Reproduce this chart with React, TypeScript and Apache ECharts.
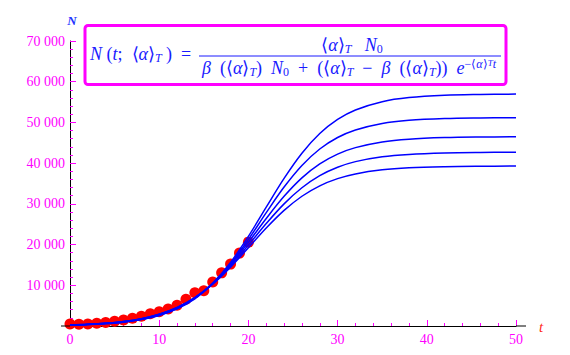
import React, { useEffect, useRef } from 'react';
import * as echarts from 'echarts';

// Observed data points (t, N)
const dataT = [0, 1, 2, 3, 4, 5, 6, 7, 8, 9, 10, 11, 12, 13, 14, 15, 16, 17, 18, 19, 20];
const dataN = [500, 450, 500, 650, 850, 1150, 1450, 1900, 2400, 3000, 3500, 4150, 5100, 6550, 8150, 8650, 10800, 13050, 15200, 17900, 20600];

// Curve samples
const curveT = [0, 2, 4, 6, 8, 10, 12, 14, 16, 18, 20, 22, 24, 26, 28, 30, 32, 35, 38, 42, 46, 50];
const curve1 = [220, 360, 600, 990, 1630, 2660, 4300, 6830, 10540, 15630, 22030, 29200, 36270, 42450, 47280, 50740, 53070, 55100, 56100, 56680, 56880, 56960];
const curve2 = [210, 340, 570, 950, 1580, 2600, 4210, 6690, 10310, 15230, 21260, 27840, 34130, 39440, 43480, 46300, 48160, 49760, 50530, 50960, 51110, 51170];
const curve3 = [240, 390, 650, 1060, 1730, 2790, 4450, 6930, 10450, 15070, 20580, 26400, 31850, 36390, 39820, 42220, 43810, 45200, 45880, 46270, 46420, 46470];
const curve4 = [250, 420, 680, 1110, 1800, 2880, 4540, 6990, 10400, 14790, 19890, 25170, 30000, 33960, 36930, 38990, 40370, 41560, 42150, 42500, 42630, 42670];
const curve5 = [250, 420, 680, 1110, 1800, 2880, 4530, 6940, 10260, 14460, 19230, 24060, 28390, 31870, 34430, 36190, 37350, 38350, 38850, 39130, 39240, 39280];
const curves = [curve1, curve2, curve3, curve4, curve5];

// Axis settings
const xMin = 0, xMax = 50, xStep = 10;
const yMin = 0, yMax = 70000, yStep = 10000;

const SERIF = 'Liberation Serif, Times New Roman, serif';
const MAG = '#ff00ff';
const BLUE = '#1a1aff';

function fmtThousands(v: number): string {
  if (v === 0) return '';
  return String(v).replace(/\B(?=(\d{3})+(?!\d))/g, ' ');
}

const FS = 18;
const rich: any = {
  i: { fontFamily: SERIF, fontStyle: 'italic', fontSize: FS, lineHeight: 20, fill: BLUE },
  r: { fontFamily: SERIF, fontSize: FS, lineHeight: 20, fill: BLUE },
  s: { fontFamily: SERIF, fontStyle: 'italic', fontSize: 12, lineHeight: 12, verticalAlign: 'bottom', fill: BLUE },
  s0: { fontFamily: SERIF, fontSize: 12, lineHeight: 12, verticalAlign: 'bottom', fill: BLUE },
  p: { fontFamily: SERIF, fontSize: 12, lineHeight: 12, verticalAlign: 'top', fill: BLUE },
  pi: { fontFamily: SERIF, fontStyle: 'italic', fontSize: 12, lineHeight: 12, verticalAlign: 'top', fill: BLUE },
  ps: { fontFamily: SERIF, fontStyle: 'italic', fontSize: 9, lineHeight: 17, verticalAlign: 'top', fill: BLUE },
};

const leftText = '{i|N}{r| (}{i|t}{r|;  ⟨}{i|α}{r|⟩}{s|T}{r| )  =}';
const numText = '{r|⟨}{i|α}{r|⟩}{s|T}{r|   }{i|N}{s0|0}';
const denText =
  '{i|β}{r|  (⟨}{i|α}{r|⟩}{s|T}{r|)  }{i|N}{s0|0}{r|  +  (⟨}{i|α}{r|⟩}{s|T}{r|  −  }{i|β}{r|  (⟨}{i|α}{r|⟩}{s|T}{r|))  }{i|e}{p|−⟨}{pi|α}{p|⟩}{ps|T}{pi|t}';

export default function App() {
  const ref = useRef<HTMLDivElement>(null);
  useEffect(() => {
    if (!ref.current) return;
    const chart = echarts.init(ref.current, null, { renderer: 'svg' });
    const scatterData = dataT.map((t, k) => [t, dataN[k]]);
    const lineSeries = curves.map((c) => ({
      type: 'line',
      data: curveT.map((t, k) => [t, c[k]]),
      showSymbol: false,
      smooth: 0.35,
      lineStyle: { color: '#0000ff', width: 1.5 },
      z: 3,
    }));
    chart.setOption({
      animation: false,
      backgroundColor: '#ffffff',
      textStyle: { fontFamily: SERIF },
      grid: { left: 70, right: 54, top: 41, bottom: 29 },
      xAxis: {
        type: 'value',
        min: xMin,
        max: xMax,
        interval: xStep,
        axisLine: { show: true, onZero: false, lineStyle: { color: '#000', width: 1 } },
        axisTick: { show: true, inside: true, length: 6, lineStyle: { color: MAG, width: 1 } },
        minorTick: { show: true, splitNumber: 5, length: 3, lineStyle: { color: MAG, width: 1 } },
        splitLine: { show: false },
        axisLabel: { color: MAG, fontFamily: SERIF, fontSize: 14, margin: 6 },
      },
      yAxis: {
        type: 'value',
        min: yMin,
        max: yMax,
        interval: yStep,
        axisLine: { show: true, onZero: false, lineStyle: { color: '#000', width: 1 } },
        axisTick: { show: true, inside: true, length: 6, lineStyle: { color: MAG, width: 1 } },
        minorTick: { show: true, splitNumber: 5, length: 3, lineStyle: { color: MAG, width: 1 } },
        splitLine: { show: false },
        axisLabel: { color: MAG, fontFamily: SERIF, fontSize: 14, margin: 5, formatter: fmtThousands },
      },
      series: [
        {
          type: 'scatter',
          data: scatterData,
          symbol: 'circle',
          symbolSize: 11,
          itemStyle: { color: '#ff0000', opacity: 1 },
          z: 2,
        },
        ...lineSeries,
      ],
      graphic: [
        { type: 'line', shape: { x1: 61, y1: 326, x2: 70, y2: 326 }, style: { stroke: '#000', lineWidth: 1 }, z: 10 },
        { type: 'line', shape: { x1: 516, y1: 326, x2: 526, y2: 326 }, style: { stroke: '#000', lineWidth: 1 }, z: 10 },
        {
          type: 'text', x: 72, y: 20,
          style: { text: 'N', fontFamily: SERIF, fontStyle: 'italic', fontWeight: 'bold', fontSize: 13, fill: '#2233ff', align: 'center', verticalAlign: 'middle' },
        },
        {
          type: 'text', x: 541, y: 327,
          style: { text: 't', fontFamily: SERIF, fontStyle: 'italic', fontSize: 15, fill: '#ff2a1a', align: 'center', verticalAlign: 'middle' },
        },
        {
          type: 'rect', shape: { x: 85, y: 25.5, width: 421, height: 59, r: 3 },
          style: { fill: '#fff', stroke: MAG, lineWidth: 3 }, z: 10,
        },
        {
          type: 'text', x: 90, y: 54, z: 11,
          style: { text: leftText, rich, align: 'left', verticalAlign: 'middle', fontFamily: SERIF, fontSize: FS, fill: BLUE },
        },
        {
          type: 'text', x: 352, y: 45, z: 11,
          style: { text: numText, rich, align: 'center', verticalAlign: 'middle', fontFamily: SERIF, fontSize: FS, fill: BLUE },
        },
        { type: 'line', shape: { x1: 199, y1: 56, x2: 501, y2: 56 }, style: { stroke: BLUE, lineWidth: 1 }, z: 11 },
        {
          type: 'text', x: 349, y: 68, z: 11,
          style: { text: denText, rich, align: 'center', verticalAlign: 'middle', fontFamily: SERIF, fontSize: FS, fill: BLUE },
        },
      ],
    });
    return () => chart.dispose();
  }, []);
  return (
    <div
      ref={ref}
      style={{ position: 'absolute', left: 0, top: 0, width: 570, height: 355, background: '#fff' }}
    />
  );
}
